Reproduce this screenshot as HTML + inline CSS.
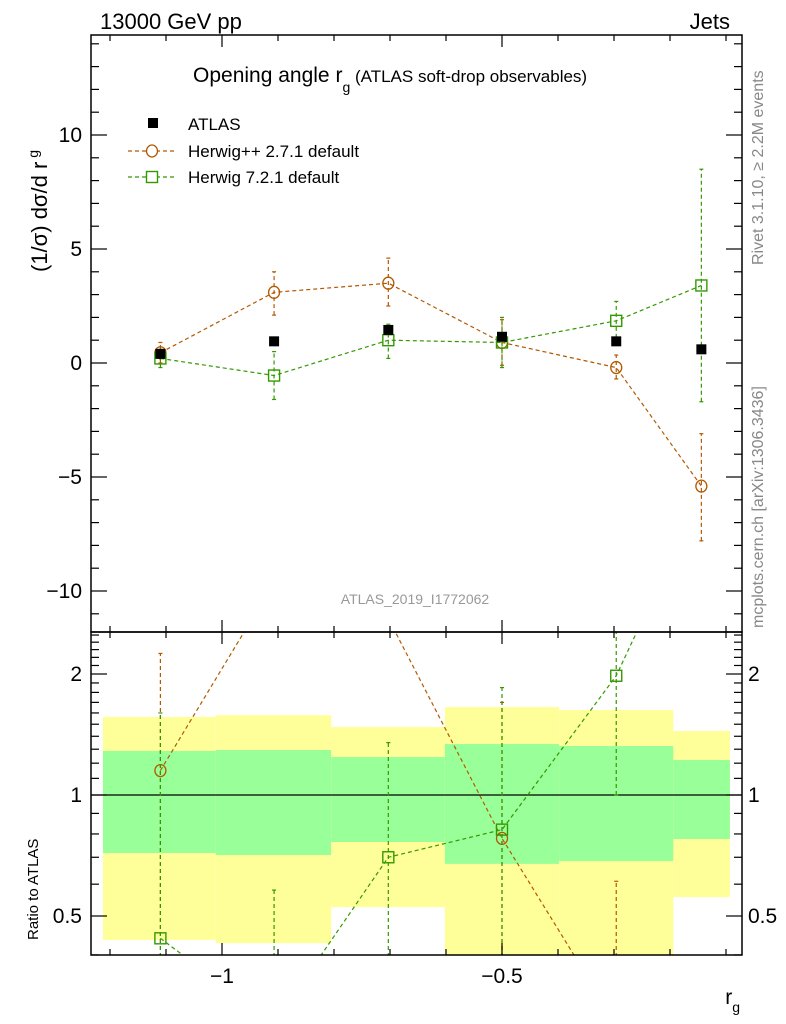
<!DOCTYPE html>
<html><head><meta charset="utf-8"><style>
html,body{margin:0;background:#fff;width:786px;height:1024px;overflow:hidden;position:relative}
svg{display:block;font-family:"Liberation Sans",sans-serif}
</style></head><body>
<svg id="c" width="786" height="1024" viewBox="0 0 786 1024" style="position:absolute;left:0;top:0"></svg>
<script>
const binEdges=[-1.2125,-1.011,-0.805,-0.602,-0.398,-0.194,-0.093];
const binCenters=[-1.11,-0.907,-0.703,-0.5,-0.296,-0.144];
const atlas=[0.4,0.95,1.45,1.15,0.95,0.6];
const hpp=[0.45,3.1,3.5,0.9,-0.2,-5.4];
const hppLo=[0.0,2.1,2.5,-0.1,-0.7,-7.8];
const hppHi=[0.9,4.0,4.6,1.9,0.35,-3.1];
const h7=[0.2,-0.55,1.0,0.9,1.85,3.4];
const h7Lo=[-0.2,-1.6,0.2,-0.2,1.1,-1.7];
const h7Hi=[0.6,0.5,1.7,2.0,2.7,8.5];
const yellowHi=[1.564,1.58,1.476,1.655,1.627,1.443];
const yellowLo=[0.436,0.428,0.526,0.3,0.3,0.557];
const greenHi=[1.287,1.294,1.243,1.339,1.324,1.222];
const greenLo=[0.717,0.709,0.764,0.674,0.685,0.777];
const hppRatio=[1.15,3.38,2.75,0.78,0.27];
const hppRatioLo=[0.2,null,null,0.2,0.2];
const hppRatioHi=[2.25,null,null,1.7,0.61];
const h7Ratio=[0.44,0.27,0.70,0.82,1.98,5.6];
const h7RatioLo=[0.2,0.2,0.2,0.2,1.0,null];
const h7RatioHi=[1.6,0.58,1.35,1.85,3.0,null];
const mainTicks=[-10,-5,0,5,10];
const ratioTicks=[0.5,1,2];
const xTicks=[-1,-0.5];

const L=91,R=742,T=35,M=632,B=955;
const X=v=>222+(v+1)*560;
const Y=v=>363-v*22.8;
const YR=v=>795-Math.log2(v)*121;
const S=document.getElementById('c');
const NS='http://www.w3.org/2000/svg';
function el(t,a,p){const e=document.createElementNS(NS,t);for(const k in a)e.setAttribute(k,a[k]);(p||S).appendChild(e);return e;}
function txt(s,a,p){const e=el('text',a,p);e.textContent=s;return e;}
const defs=el('defs',{});
const c1=el('clipPath',{id:'cm'},defs);el('rect',{x:L,y:T,width:R-L,height:M-T},c1);
const c2=el('clipPath',{id:'cr'},defs);el('rect',{x:L,y:M,width:R-L,height:B-M},c2);

const gR=el('g',{'clip-path':'url(#cr)'});

for(let i=0;i<6;i++){
  const x0=X(binEdges[i]),x1=X(binEdges[i+1]);
  const y=el('rect',{x:x0,y:YR(yellowHi[i]),width:x1-x0,height:YR(yellowLo[i])-YR(yellowHi[i]),fill:'#ffff99'},gR);
  
  const g=el('rect',{x:x0,y:YR(greenHi[i]),width:x1-x0,height:YR(greenLo[i])-YR(greenHi[i]),fill:'#99ff99'},gR);
  
}
el('line',{x1:L,x2:R,y1:YR(1),y2:YR(1),stroke:'#000','stroke-width':1.3},gR);

function series(g,cx,vals,lo,hi,yf,col,shape,name){
  const pts=[];
  vals.forEach((v,i)=>{if(v!=null)pts.push([X(cx[i]),yf(v)]);});
  const pl=el('polyline',{points:pts.map(p=>p.join(',')).join(' '),fill:'none',stroke:col,'stroke-width':1.2,'stroke-dasharray':'4,3'},g);
  
  vals.forEach((v,i)=>{
    const x=X(cx[i]);
    if(lo[i]!=null&&hi[i]!=null){
      const eb=el('line',{x1:x,x2:x,y1:yf(lo[i]),y2:yf(hi[i]),stroke:col,'stroke-width':1.2,'stroke-dasharray':'4,3'},g);
      
      el('line',{x1:x-2,x2:x+2,y1:yf(hi[i]),y2:yf(hi[i]),stroke:col,'stroke-width':1.2},g);
      el('line',{x1:x-2,x2:x+2,y1:yf(lo[i]),y2:yf(lo[i]),stroke:col,'stroke-width':1.2},g);
    }
    if(v==null)return;
    const y=yf(v);let m;
    if(shape==='c')m=el('ellipse',{cx:x,cy:y,rx:5.5,ry:6,fill:'none',stroke:col,'stroke-width':1.3},g);
    else m=el('rect',{x:x-5.5,y:y-5.5,width:11,height:11,fill:'none',stroke:col,'stroke-width':1.4},g);
    
  });
}
const gM=el('g',{'clip-path':'url(#cm)'});

series(gM,binCenters,hpp,hppLo,hppHi,Y,'#b35900','c','herwigpp');
series(gM,binCenters,h7,h7Lo,h7Hi,Y,'#339900','s','herwig7');
const ga=el('g',{},gM);
atlas.forEach((v,i)=>{const m=el('rect',{x:X(binCenters[i])-5,y:Y(v)-5,width:10,height:10,fill:'#000'},ga);
});
const gR2=el('g',{'clip-path':'url(#cr)'});
series(gR2,binCenters,hppRatio,hppRatioLo,hppRatioHi,YR,'#b35900','c','herwigpp-ratio');
series(gR2,binCenters,h7Ratio,h7RatioLo,h7RatioHi,YR,'#339900','s','herwig7-ratio');

el('rect',{x:L,y:T,width:R-L,height:M-T,fill:'none',stroke:'#000','stroke-width':1.5});
el('rect',{x:L,y:M,width:R-L,height:B-M,fill:'none',stroke:'#000','stroke-width':1.5});
for(let v=-1.2;v<=-0.08;v+=0.1){const x=X(v);const maj=Math.abs(v*2-Math.round(v*2))<1e-6;const l=maj?12:6;
 [[T,1],[M,-1],[M,1],[B,-1]].forEach(([y,d])=>el('line',{x1:x,x2:x,y1:y,y2:y+d*l,stroke:'#000','stroke-width':1.2}));}
xTicks.forEach(v=>{const t=txt('\u2212'+String(-v),{x:X(v),y:983,'font-size':21,'text-anchor':'middle'});});
for(let v=-11;v<=14;v++){const y=Y(v);const l=v%5===0?16:8;
 el('line',{x1:L,x2:L+l,y1:y,y2:y,stroke:'#000','stroke-width':1.2});el('line',{x1:R,x2:R-l,y1:y,y2:y,stroke:'#000','stroke-width':1.2});}
mainTicks.forEach(v=>{const t=txt((v<0?'\u2212':'')+Math.abs(v),{x:82,y:Y(v)+7,'font-size':21,'text-anchor':'end'});});
[0.4,0.5,0.6,0.7,0.8,0.9,1,1.1,1.2,1.3,1.4,1.5,1.6,1.7,1.8,1.9,2,2.1,2.2,2.3,2.4,2.5].forEach(v=>{const y=YR(v);const l=(v===0.5||v===1||v===2)?16:8;
 el('line',{x1:L,x2:L+l,y1:y,y2:y,stroke:'#000','stroke-width':1.2});el('line',{x1:R,x2:R-l,y1:y,y2:y,stroke:'#000','stroke-width':1.2});});
ratioTicks.forEach(v=>{const t=txt(String(v),{x:82,y:YR(v)+7,'font-size':21,'text-anchor':'end'});
 const t2=txt(String(v),{x:748,y:YR(v)+7,'font-size':21});});
</script>
<svg width="786" height="1024" style="position:absolute;left:0;top:0" font-family="Liberation Sans, sans-serif">
<text x="100" y="29" font-size="22">13000 GeV pp</text>
<text x="730" y="29" font-size="22" text-anchor="end">Jets</text>
<text x="193" y="82" font-size="21">Opening angle r<tspan font-size="14" dy="10">g</tspan><tspan font-size="17" dy="-10"> (ATLAS soft-drop observables)</tspan></text>
<rect x="148" y="118" width="10" height="10" fill="#000"/>
<text x="188" y="130" font-size="17">ATLAS</text>
<line x1="128" x2="175" y1="151" y2="151" stroke="#b35900" stroke-dasharray="4,3" stroke-width="1.2"/>
<ellipse cx="152" cy="151" rx="5.5" ry="6" fill="#fff" stroke="#b35900" stroke-width="1.3"/>
<text x="188" y="157" font-size="17">Herwig++ 2.7.1 default</text>
<line x1="128" x2="175" y1="177" y2="177" stroke="#339900" stroke-dasharray="4,3" stroke-width="1.2"/>
<rect x="146.5" y="171.5" width="11" height="11" fill="#fff" stroke="#339900" stroke-width="1.4"/>
<text x="188" y="183" font-size="17">Herwig 7.2.1 default</text>
<text x="415" y="604" font-size="14" fill="#999" text-anchor="middle">ATLAS_2019_I1772062</text>
<text transform="translate(47,272) rotate(-90)" font-size="22">(1/σ) dσ/d r<tspan font-size="14" dy="-9" dx="4">g</tspan></text>
<text transform="translate(38,940) rotate(-90)" font-size="15">Ratio to ATLAS</text>
<text x="740" y="1004" font-size="21" text-anchor="end">r<tspan font-size="14" dy="8">g</tspan></text>
<text transform="translate(763,265) rotate(-90)" font-size="16" fill="#888">Rivet 3.1.10, ≥ 2.2M events</text>
<text transform="translate(763,628) rotate(-90)" font-size="16" fill="#888">mcplots.cern.ch [arXiv:1306.3436]</text>
</svg>
</body></html>
